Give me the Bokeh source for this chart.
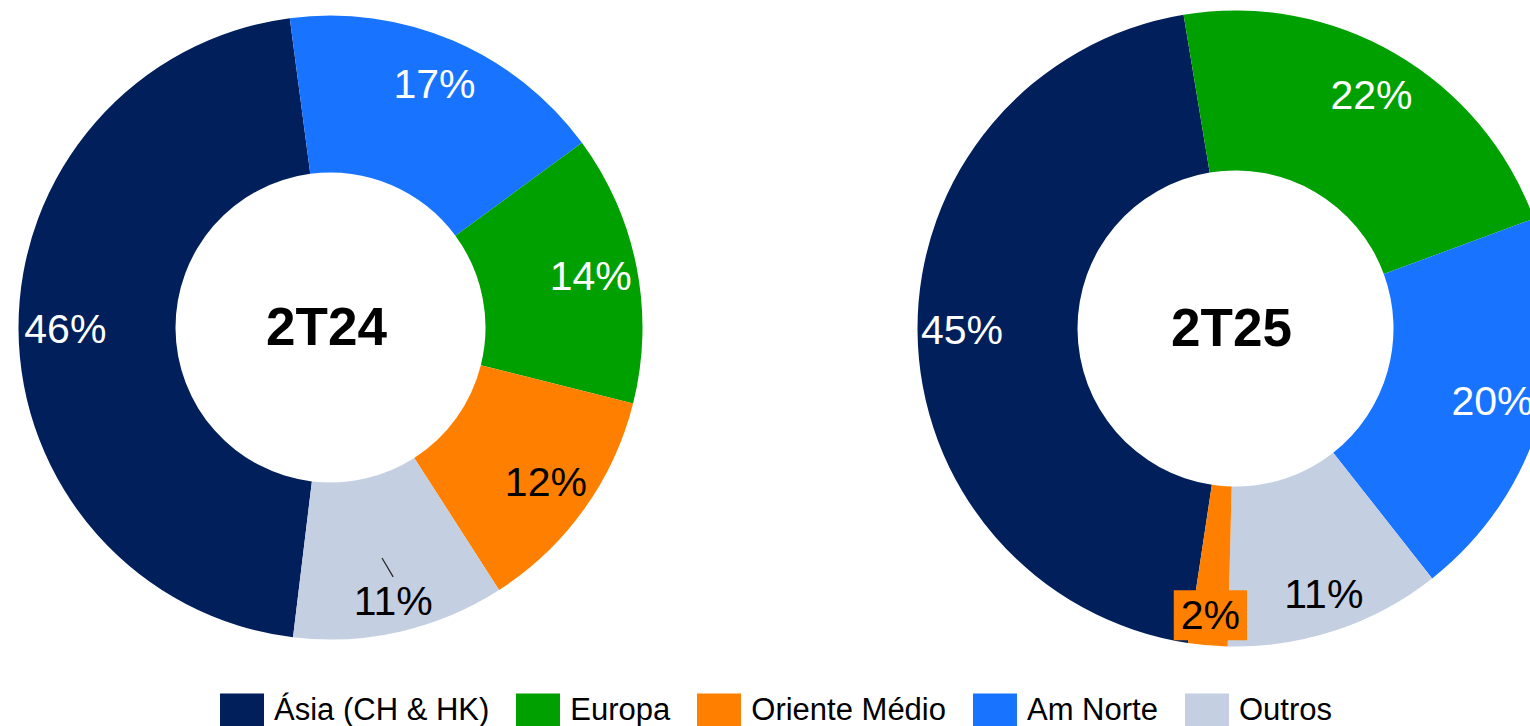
import math
from bokeh.plotting import figure
from bokeh.models import Range1d, ColumnDataSource, Legend, LegendItem
from bokeh.core.properties import value
from bokeh.embed import file_html
from bokeh.resources import INLINE

# ---------------- data ----------------
categories = ["Ásia (CH & HK)", "Europa", "Oriente Médio", "Am Norte", "Outros"]
periods = ["2T24", "2T25"]
share_2t24 = [46, 14, 12, 17, 11]
share_2t25 = [45, 22, 2, 20, 11]
# clockwise slice order in each donut
order_2t24 = ["Ásia (CH & HK)", "Am Norte", "Europa", "Oriente Médio", "Outros"]
order_2t25 = ["Ásia (CH & HK)", "Europa", "Am Norte", "Outros", "Oriente Médio"]

# ---------------- style ----------------
W, H = 1530, 726
colors = {"Ásia (CH & HK)": "#001F5B", "Europa": "#00A000", "Oriente Médio": "#FF8000",
          "Am Norte": "#1874FF", "Outros": "#C4CFE1"}
label_colors = {"Ásia (CH & HK)": "white", "Europa": "white", "Oriente Médio": "black",
                "Am Norte": "white", "Outros": "black"}
FONT = "Liberation Sans"
layout = [
    dict(cx=330, cy=H - 327, r_out=312, r_in=155, start=186.9,
         label_frac={"Outros": 0.90}, boxed=[],
         leader={"Outros": (0.757, 0.824, 0.3, -1.2)}),
    dict(cx=1235, cy=H - 328, r_out=318, r_in=158, start=188.6,
         label_frac={"Outros": 0.88, "Oriente Médio": 0.905, "Am Norte": 0.84,
                     "Ásia (CH & HK)": 0.86},
         boxed=["Oriente Médio"], leader={}),
]

p = figure(width=W, height=H, x_range=Range1d(0, W), y_range=Range1d(0, H),
           output_backend="svg", toolbar_location=None, min_border=0,
           x_axis_type=None, y_axis_type=None, background_fill_color="white",
           border_fill_color="white")
p.outline_line_color = None
p.grid.visible = False

shares = [share_2t24, share_2t25]
orders = [order_2t24, order_2t25]
legend_renderer = None

for k in range(2):
    L = layout[k]
    vals = dict(zip(categories, shares[k]))
    total = float(sum(shares[k]))
    cats, starts, ends, fills = [], [], [], []
    lx, ly, ltxt, lcol = [], [], [], []
    bx, by, btxt = [], [], []
    seg = []
    a = L["start"]
    for c in orders[k]:
        sweep = vals[c] / total * 360.0
        a0, a1 = a, a + sweep
        a = a1
        cats.append(c)
        starts.append(math.radians(90 - a0))
        ends.append(math.radians(90 - a1))
        fills.append(colors[c])
        mid_deg = (a0 + a1) / 2
        mid = math.radians(mid_deg)
        fr = L["label_frac"].get(c, 0.85)
        x = L["cx"] + fr * L["r_out"] * math.sin(mid)
        y = L["cy"] + fr * L["r_out"] * math.cos(mid)
        if c in L["boxed"]:
            bx.append(x); by.append(y); btxt.append(f"{vals[c]}%")
        else:
            lx.append(x); ly.append(y); ltxt.append(f"{vals[c]}%"); lcol.append(label_colors[c])
        if c in L["leader"]:
            f0, f1, d0, d1 = L["leader"][c]
            t0 = math.radians(mid_deg + d0)
            t1 = math.radians(mid_deg + d1)
            seg.append((L["cx"] + f0 * L["r_out"] * math.sin(t0), L["cy"] + f0 * L["r_out"] * math.cos(t0),
                        L["cx"] + f1 * L["r_out"] * math.sin(t1), L["cy"] + f1 * L["r_out"] * math.cos(t1)))
    src = ColumnDataSource(dict(cat=cats, start=starts, end=ends, fill=fills,
                                x=[L["cx"]] * len(cats), y=[L["cy"]] * len(cats)))
    r = p.annular_wedge(x="x", y="y", inner_radius=L["r_in"], outer_radius=L["r_out"],
                        inner_radius_units="screen", outer_radius_units="screen",
                        start_angle="start", end_angle="end", direction="clock",
                        fill_color="fill", line_color=None, source=src)
    if k == 0:
        legend_renderer = (r, cats)
    p.text(x=lx, y=ly, text=ltxt, text_color=lcol, text_font=value(FONT),
           text_font_size="41px", text_align="center", text_baseline="middle")
    if bx:
        p.text(x=bx, y=by, text=btxt, text_color="black", text_font=value(FONT),
               text_font_size="41px", text_align="center", text_baseline="middle",
               background_fill_color=colors["Oriente Médio"], padding=(7, 2))
    for s in seg:
        p.segment(x0=[s[0]], y0=[s[1]], x1=[s[2]], y1=[s[3]], line_color="#222222", line_width=1.2)
    p.text(x=[L["cx"] - 4], y=[L["cy"] + 1], text=[periods[k]], text_color="black",
           text_font=value(FONT), text_font_size="53px", text_font_style="bold",
           text_align="center", text_baseline="middle")

r, cats = legend_renderer
items = [LegendItem(label=c, renderers=[r], index=cats.index(c)) for c in categories]
legend = Legend(items=items, orientation="horizontal", location=(214, -4),
                glyph_width=55, glyph_height=41, label_height=41, label_standoff=5,
                spacing=21, padding=0, margin=0, border_line_color=None,
                background_fill_alpha=0, label_text_font=FONT, label_text_font_size="31px",
                label_text_color="black")
p.add_layout(legend, "center")

open("out.html", "w").write(file_html(p, INLINE))
